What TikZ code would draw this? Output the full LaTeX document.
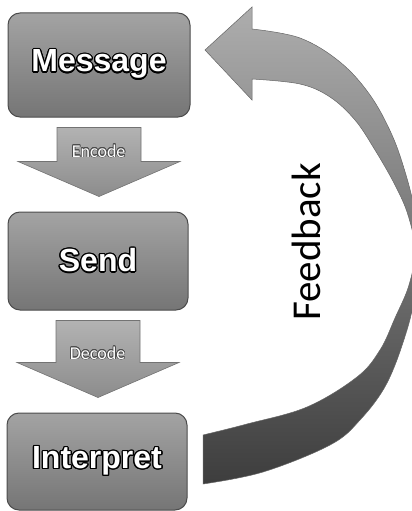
\documentclass[tikz,border=0pt]{standalone}
\usepackage{fontspec}
\usepackage{contour}
\usetikzlibrary{calc}
\newfontfamily\boxfont{Liberation Sans}
\newfontfamily\calfont{Carlito}
\contournumber{16}
\begin{document}
\begin{tikzpicture}[x=1pt,y=-1pt,
  stagebox/.style={draw=black!70, line width=1pt, rounded corners=12pt,
    top color=black!36, bottom color=black!54, inner sep=0pt, text=white,
    font=\boxfont\bfseries\fontsize{32}{38}\selectfont},
  fatdown/.style={top color=black!28, bottom color=black!45, draw=black!55, line width=0.6pt,
    to path={let \p1=(\tikztostart), \p2=(\tikztotarget) in
      (\x1-42pt,\y1-10pt) -- (\x1+42pt,\y1-10pt) -- (\x1+42pt,\y2+50pt) -- (\x1+81pt,\y2+50pt)
      -- (\x1,\y2+15pt) -- (\x1-81pt,\y2+50pt) -- (\x1-42pt,\y2+50pt) -- cycle}},
  flowlbl/.style={text=white, inner sep=0pt, font=\calfont\fontsize{18}{20}\selectfont},
  fbarrow/.style={top color=black!32, bottom color=black!76, draw=black!60, line width=0.5pt},
  fblabel/.style={rotate=90, inner sep=0pt, text=black, font=\calfont\fontsize{41}{48}\selectfont}]
\useasboundingbox (0,0) rectangle (412,511);
\clip (0,0) rectangle (412,511);

% stages
\node[stagebox, minimum width=182pt, minimum height=104pt] (msg) at (99,65)
  {\contourlength{1.3pt}\contour{black}{Message}};
\node[stagebox, minimum width=180pt, minimum height=98pt] (send) at (98,261)
  {\contourlength{1.3pt}\contour{black}{Send}};
\node[stagebox, minimum width=180pt, minimum height=97pt] (interp) at (97,461.5)
  {\contourlength{1.3pt}\contour{black}{Interpret}};

% flow arrows
\path[fatdown] (msg.south) to (send.north);
\path[fatdown] (send.south) to (interp.north);
\node[flowlbl] (enc) at ($(msg.south)!0.36!(send.north)$)
  {\contourlength{0.6pt}\contour{black!70}{Encode}};
\node[flowlbl] (dec) at ($(send.south)!0.42!(interp.north)$)
  {\contourlength{0.6pt}\contour{black!70}{Decode}};

% feedback arrow
\path[fbarrow] (205,50) -- (252,7) -- (252,29)
  -- plot[smooth, tension=0.6] coordinates {(252,29) (300,38) (340,62) (370,95) (392,135)
     (406,175) (416,215) (422,250) (417,285) (407,330) (387,383) (360,420) (330,445)
     (263,472) (203,484)}
  -- (203,435)
  -- plot[smooth, tension=0.6] coordinates {(203,435) (247,424) (307,407) (357,377)
     (380,350) (395,318) (409,285) (415,250) (408,215) (395,185) (375,150) (355,120)
     (330,97) (300,84) (252,79)}
  -- (252,100) -- cycle;

\node[fblabel] (fb) at (306,242) {Feedback};
\end{tikzpicture}
\end{document}
